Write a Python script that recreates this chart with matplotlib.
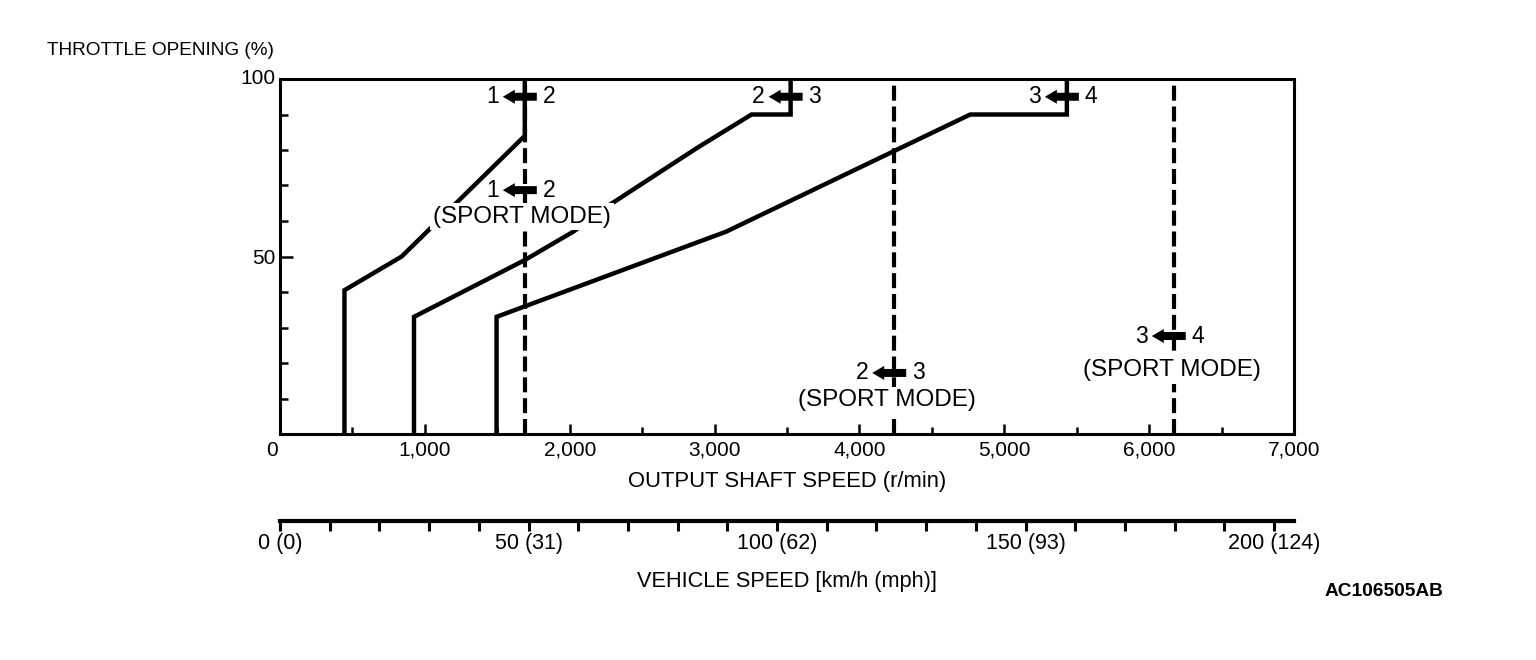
import matplotlib.pyplot as plt
import matplotlib.transforms as mtransforms
from matplotlib.patches import Polygon
import numpy as np

plt.rcParams['font.family'] = ['Liberation Sans', 'DejaVu Sans']

# shift lines (output shaft speed r/min, throttle %)
up12_x = [445, 445, 840, 1690, 1690]
up12_y = [0, 40.5, 50, 84, 100]
up23_x = [925, 925, 1690, 2025, 2255, 2876, 3255, 3525, 3525]
up23_y = [0, 33, 49, 57, 64, 80.5, 90, 90, 100]
up34_x = [1495, 1495, 3080, 4765, 5432, 5432]
up34_y = [0, 33, 57, 90, 90, 100]

# sport mode shift points (vertical dashed)
sport_x = [1690, 4240, 6170]

# labels
top_lbl = [("1", "2"), ("2", "3"), ("3", "4")]
top_x = [1690, 3525, 5432]
top_y = 95
sport_lbl = [("1", "2"), ("2", "3"), ("3", "4")]
sport_arrow_y = [68.7, 17.2, 27.6]
sport_text_x = [1670, 4190, 6155]
sport_text_y = [61.2, 9.5, 18.0]

# vehicle speed scale
kmh_ticks = [0, 50, 100, 150, 200]
mph_vals = [0, 31, 62, 93, 124]
kmh_max = 204

fig = plt.figure(figsize=(15.36, 6.6), dpi=100)
ax = fig.add_axes([280/1536, 1-434/660, 1014/1536, 355/660])
ax.set_xlim(0, 7000)
ax.set_ylim(0, 100)

for s in ax.spines.values():
    s.set_linewidth(2.2)

ax.set_xticks(np.arange(0, 7001, 1000))
ax.set_xticklabels(["0", "1,000", "2,000", "3,000", "4,000", "5,000", "6,000", "7,000"])
ax.set_xticks(np.arange(500, 7000, 1000), minor=True)
ax.set_yticks([50, 100])
ax.set_yticklabels(["50", "100"])
ax.set_yticks(np.arange(10, 100, 10), minor=True)
ax.tick_params(axis='x', which='major', direction='in', length=7.5, width=1.8, labelsize=15, pad=5)
ax.tick_params(axis='x', which='minor', direction='in', length=5, width=1.8)
ax.tick_params(axis='y', which='major', direction='in', length=9.5, width=1.8, labelsize=15, pad=3)
ax.tick_params(axis='y', which='minor', direction='in', length=6, width=1.8)
ax.get_xticklabels()[0].set_transform(
    ax.get_xticklabels()[0].get_transform() + mtransforms.Affine2D().translate(-8, 0))
ax.get_yticklabels()[1].set_transform(
    ax.get_yticklabels()[1].get_transform() + mtransforms.Affine2D().translate(0, 3))

for x in sport_x:
    ax.axvline(x, color='black', lw=3, dashes=(3.6, 1.4), zorder=2)

for xs, ys in [(up12_x, up12_y), (up23_x, up23_y), (up34_x, up34_y)]:
    ax.plot(xs, ys, color='black', lw=3.2, solid_joinstyle='miter', zorder=3)

# arrow shape in pixels, relative to anchor
arrow_px = [(-22, 0), (-10, 7), (-10, 4), (12, 4), (12, -4), (-10, -4), (-10, -7)]


def shift_label(x, y, a, b):
    tr = mtransforms.Affine2D() + mtransforms.ScaledTranslation(x, y, ax.transData)
    ax.add_patch(Polygon(arrow_px, closed=True, facecolor='black', edgecolor='none',
                         transform=tr, zorder=6, clip_on=False))
    ax.text(x, y, a, fontsize=16.5, ha='center', va='center', zorder=6,
            transform=mtransforms.offset_copy(ax.transData, fig=fig, x=-32, y=0, units='dots'))
    ax.text(x, y, b, fontsize=16.5, ha='center', va='center', zorder=6,
            transform=mtransforms.offset_copy(ax.transData, fig=fig, x=24, y=0, units='dots'))


for (a, b), x in zip(top_lbl, top_x):
    shift_label(x, top_y, a, b)

for (a, b), x, ya, tx, ty in zip(sport_lbl, sport_x, sport_arrow_y, sport_text_x, sport_text_y):
    shift_label(x, ya, a, b)
    ax.text(tx, ty, "(SPORT MODE)", fontsize=17.5, ha='center', va='center', zorder=5,
            bbox=dict(facecolor='white', edgecolor='none', pad=2))

ax.text(-0.23, 1.08, "THROTTLE OPENING (%)", transform=ax.transAxes, fontsize=13.7,
        ha='left', va='center')
ax.set_xlabel("OUTPUT SHAFT SPEED (r/min)", fontsize=15.8, labelpad=8)

# vehicle speed axis
ax2 = fig.add_axes([280/1536, 1-521/660, 1014/1536, 0.0001])
ax2.set_xlim(0, kmh_max)
ax2.set_ylim(0, 1)
for k in ['top', 'left', 'right']:
    ax2.spines[k].set_visible(False)
ax2.spines['bottom'].set_linewidth(3)
ax2.set_yticks([])
ax2.set_xticks(kmh_ticks)
ax2.set_xticklabels([f"{k} ({m})" for k, m in zip(kmh_ticks, mph_vals)])
ax2.set_xticks(np.arange(10, 201, 10), minor=True)
ax2.tick_params(axis='x', which='both', direction='out', length=7, width=2.2)
ax2.tick_params(axis='x', which='major', labelsize=15.5, pad=2)
ax2.set_xlabel("VEHICLE SPEED [km/h (mph)]", fontsize=15.7, labelpad=12)

fig.text(1443/1536, 1-592/660, "AC106505AB", fontsize=13.8, fontweight='bold',
         ha='right', va='center')

fig.savefig("out.png", dpi=100)
